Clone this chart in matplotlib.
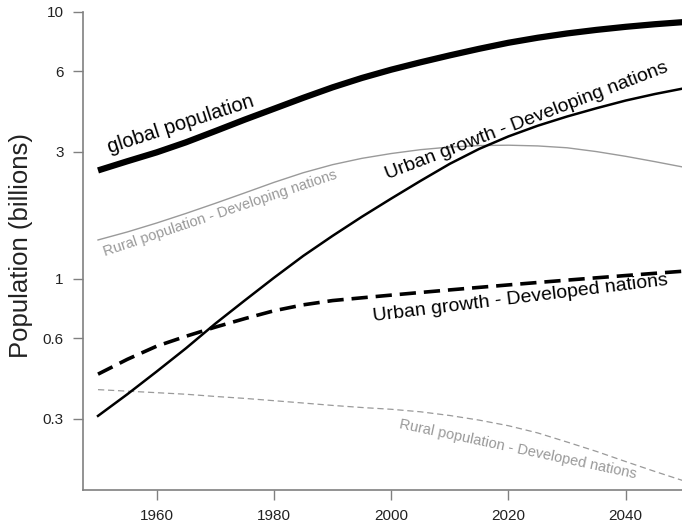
import matplotlib
matplotlib.use("Agg")
import matplotlib.pyplot as plt

plt.rcParams['font.family'] = ['Liberation Sans', 'DejaVu Sans']

years = [1950, 1955, 1960, 1965, 1970, 1975, 1980, 1985, 1990, 1995, 2000,
         2005, 2010, 2015, 2020, 2025, 2030, 2035, 2040, 2045, 2050]

global_pop = [2.55, 2.76, 2.98, 3.25, 3.58, 3.95, 4.34, 4.77, 5.22, 5.66, 6.08,
              6.48, 6.88, 7.28, 7.67, 8.01, 8.31, 8.57, 8.80, 9.00, 9.17]

urban_developing = [0.307, 0.37, 0.45, 0.55, 0.68, 0.83, 1.01, 1.22, 1.45, 1.71, 2.0,
                    2.33, 2.7, 3.07, 3.42, 3.75, 4.06, 4.36, 4.66, 4.93, 5.18]

urban_developed = [0.44, 0.5, 0.56, 0.61, 0.66, 0.71, 0.76, 0.8, 0.83, 0.85, 0.87,
                   0.89, 0.91, 0.93, 0.95, 0.97, 0.99, 1.01, 1.03, 1.05, 1.07]

rural_developing = [1.40, 1.50, 1.62, 1.76, 1.92, 2.1, 2.3, 2.5, 2.68, 2.83, 2.95,
                    3.05, 3.12, 3.16, 3.17, 3.15, 3.1, 3.0, 2.88, 2.75, 2.62]

rural_developed = [0.385, 0.38, 0.375, 0.37, 0.363, 0.357, 0.35, 0.343, 0.336, 0.33, 0.325,
                   0.318, 0.308, 0.296, 0.282, 0.265, 0.245, 0.226, 0.207, 0.19, 0.175]

x_ticks = [1960, 1980, 2000, 2020, 2040]
y_ticks = [0.3, 0.6, 1, 3, 6, 10]
y_tick_labels = ["0.3", "0.6", "1", "3", "6", "10"]

W, H = 682, 525
fig = plt.figure(figsize=(W / 100, H / 100), dpi=100)
ax_l, ax_r, ax_b, ax_t = 83, 682, 490, 0
ax = fig.add_axes([ax_l / W, (H - ax_b) / H, (ax_r - ax_l) / W, (ax_b - ax_t) / H])

grey_line = '#9a9a9a'
ax.plot(years, rural_developing, color=grey_line, lw=1.0)
ax.plot(years, rural_developed, color=grey_line, lw=0.9, linestyle=(0, (5, 3)))
ax.plot(years, urban_developed, color='black', lw=2.6, linestyle=(0, (4.5, 2.2)))
ax.plot(years, urban_developing, color='black', lw=1.8)
ax.plot(years, global_pop, color='black', lw=4.5, solid_capstyle='butt')

ax.set_yscale('log')
ax.set_xlim(1947.44, 2049.6)
ax.set_ylim(0.162, 11.09)

ax.set_xticks(x_ticks)
ax.set_xticklabels([str(v) for v in x_ticks])
ax.set_yticks(y_ticks)
ax.set_yticklabels(y_tick_labels)
ax.yaxis.set_minor_locator(matplotlib.ticker.NullLocator())

for s in ['top', 'right']:
    ax.spines[s].set_visible(False)
spine_col = '#808080'
ax.spines['left'].set_color(spine_col)
ax.spines['bottom'].set_color(spine_col)
ax.spines['left'].set_linewidth(1.2)
ax.spines['bottom'].set_linewidth(1.2)
ax.spines['left'].set_bounds(0.162, 10)
ax.tick_params(axis='both', colors=spine_col, length=7, width=1.0,
               labelsize=11, labelcolor='#222222', pad=7)

ax.set_ylabel("Population (billions)", fontsize=18.5, color='#222222', labelpad=7)


def px(x, y):
    return ((x - ax_l) / (ax_r - ax_l), (ax_b - y) / (ax_b - ax_t))


def label(x, y, s, rot, size, color):
    fx, fy = px(x, y)
    ax.text(fx, fy, s, transform=ax.transAxes, rotation=rot, rotation_mode='anchor',
            ha='center', va='center', fontsize=size, color=color)


label(181, 124, "global population", 18, 14.5, 'black')
label(527, 121, "Urban growth - Developing nations", 21, 14, 'black')
label(220, 213, "Rural population - Developing nations", 18.5, 10.5, '#999999')
label(520, 298, "Urban growth - Developed nations", 7, 14, 'black')
label(518, 449, "Rural population - Developed nations", -12, 10.5, '#999999')

fig.savefig("out.png", dpi=100, facecolor='white')
